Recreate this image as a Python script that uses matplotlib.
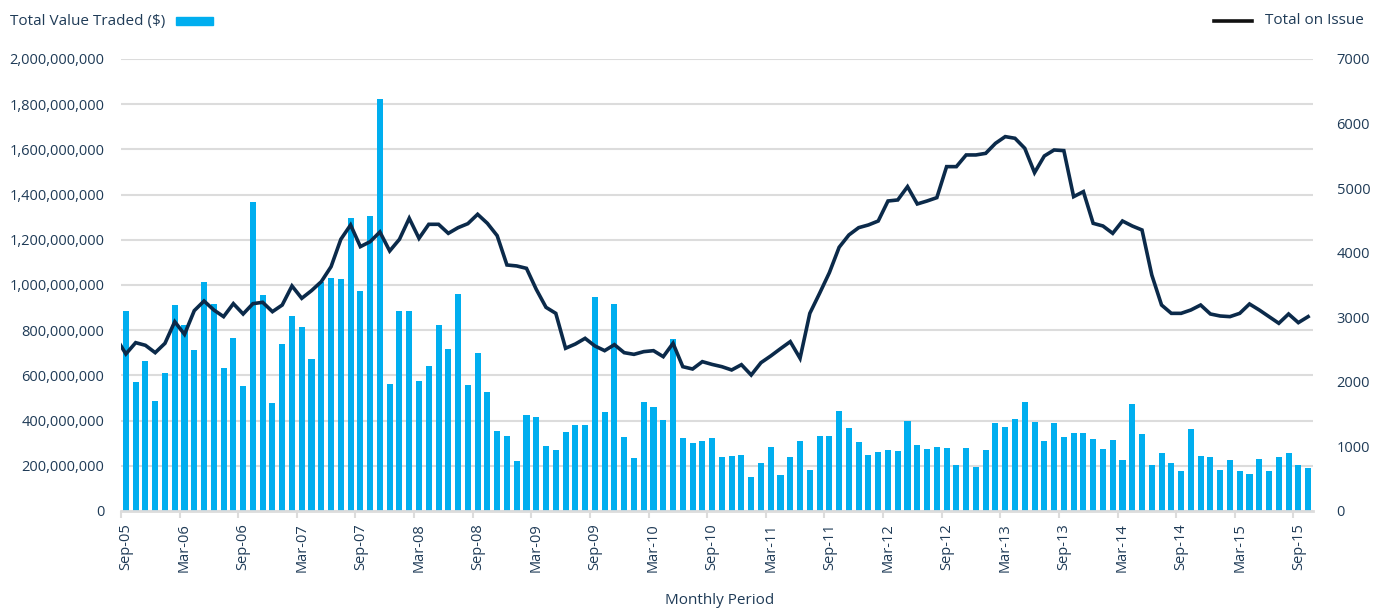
import matplotlib
matplotlib.use("Agg")
import matplotlib.pyplot as plt
import numpy as np
from matplotlib.lines import Line2D
from matplotlib.patches import Rectangle
from matplotlib.ticker import FuncFormatter, FixedLocator

plt.rcParams['font.family'] = ['Open Sans', 'DejaVu Sans']

# Monthly periods Sep-05 .. Oct-15
months = ["Jan", "Feb", "Mar", "Apr", "May", "Jun", "Jul", "Aug", "Sep", "Oct", "Nov", "Dec"]
periods = []
y, m = 2005, 8
for _ in range(122):
    periods.append(f"{months[m]}-{y % 100:02d}")
    m += 1
    if m == 12:
        m = 0
        y += 1

# Total Value Traded ($ millions)
value_traded_m = [
    885, 569, 662, 488, 611, 910, 822, 711, 1012, 916, 633, 765,
    552, 1366, 956, 476, 739, 864, 813, 671, 1013, 1031, 1025, 1296,
    972, 1305, 1823, 562, 883, 883, 577, 642, 824, 718, 959, 558,
    698, 527, 354, 330, 223, 426, 414, 286, 268, 350, 379, 379,
    948, 437, 914, 326, 235, 484, 462, 401, 760, 322, 299, 308,
    322, 240, 242, 248, 149, 212, 282, 159, 237, 310, 181, 333,
    333, 442, 366, 305, 248, 261, 270, 264, 398, 291, 274, 282,
    277, 205, 279, 196, 270, 388, 370, 406, 482, 392, 308, 389,
    327, 347, 347, 320, 274, 316, 227, 475, 341, 204, 255, 211,
    178, 361, 242, 237, 180, 227, 177, 162, 229, 176, 237, 257,
    202, 190,
]

# Total on Issue (first value is Aug-05, only partly visible at the left edge)
on_issue_prior = 2680
on_issue = [
    2432, 2607, 2566, 2452, 2597, 2932, 2736, 3103, 3252, 3113, 3010, 3211,
    3051, 3211, 3232, 3087, 3190, 3485, 3294, 3413, 3552, 3784, 4208, 4430,
    4094, 4171, 4321, 4027, 4208, 4533, 4223, 4440, 4440, 4300, 4388, 4450,
    4595, 4455, 4264, 3810, 3795, 3758, 3433, 3154, 3061, 2520, 2586, 2674,
    2556, 2483, 2576, 2452, 2426, 2468, 2483, 2390, 2597, 2235, 2199, 2313,
    2270, 2235, 2184, 2266, 2106, 2297, 2401, 2514, 2623, 2365, 3061, 3371,
    3691, 4084, 4275, 4388, 4430, 4491, 4801, 4817, 5023, 4755, 4801, 4853,
    5333, 5333, 5514, 5514, 5539, 5694, 5798, 5772, 5617, 5240, 5498, 5591,
    5581, 4868, 4946, 4455, 4414, 4300, 4491, 4414, 4352, 3655, 3190, 3061,
    3061, 3113, 3190, 3051, 3020, 3010, 3061, 3206, 3113, 3010, 2907, 3051,
    2917, 3010,
]

TEXT = "#1F3B57"
BAR = "#00AEEF"
LINE = "#0B2A4A"
GRID = "#DCDCDC"

fig = plt.figure(figsize=(13.82, 6.11), dpi=100)
ax = fig.add_axes([121 / 1382, 1 - 511 / 611, (1313 - 121) / 1382, (511 - 59) / 611])
ax2 = ax.twinx()

x = np.arange(len(periods))
ax.bar(x, np.array(value_traded_m) * 1e6, width=0.62, color=BAR, zorder=2)

xl = np.arange(-1, len(periods))
ax2.plot(xl, [on_issue_prior] + on_issue, color=LINE, lw=2.6, solid_joinstyle="miter", zorder=3)

ax.set_xlim(-0.5, len(periods) - 0.5)
ax2.set_xlim(-0.5, len(periods) - 0.5)
ax.set_ylim(0, 2e9)
ax2.set_ylim(0, 7000)

ax.set_yticks(np.arange(0, 2.0e9 + 1, 2e8))
ax.yaxis.set_major_formatter(FuncFormatter(lambda v, p: f"{int(round(v)):,}"))
ax2.set_yticks(np.arange(0, 7001, 1000))
ax2.yaxis.set_major_formatter(FuncFormatter(lambda v, p: f"{int(v)}"))

ax.grid(axis="y", color=GRID, lw=1.5, zorder=0)
ax.set_axisbelow(True)

for a in (ax, ax2):
    for s in a.spines.values():
        s.set_visible(False)
ax.spines["bottom"].set_visible(True)
ax.spines["bottom"].set_color(GRID)
ax.spines["bottom"].set_linewidth(2)

ax.tick_params(axis="y", length=0, labelsize=10.5, labelcolor=TEXT, pad=12)
ax2.tick_params(axis="y", length=0, labelsize=10.5, labelcolor=TEXT, pad=17)

label_idx = list(range(0, len(periods), 6))
ax.xaxis.set_major_locator(FixedLocator([i - 0.5 for i in label_idx]))
ax.xaxis.set_minor_locator(FixedLocator(label_idx))
ax.set_xticklabels([])
ax.set_xticklabels([periods[i] for i in label_idx], minor=True, rotation=90)
ax.tick_params(axis="x", which="major", length=5, width=1.5, color=GRID)
ax.tick_params(axis="x", which="minor", length=0, labelsize=10.5, labelcolor=TEXT, pad=9)

fig.text(720 / 1382, 1 - 601 / 611, "Monthly Period", ha="center", va="center", fontsize=11, color=TEXT)

# legends
fig.text(10 / 1382, 1 - 21 / 611, "Total Value Traded ($)", ha="left", va="center", fontsize=11, color=TEXT)
fig.patches.append(Rectangle((176 / 1382, 1 - 25 / 611), 37 / 1382, 8 / 611,
                             transform=fig.transFigure, color=BAR, figure=fig))
fig.lines.append(Line2D([1214 / 1382, 1252 / 1382], [1 - 21 / 611, 1 - 21 / 611],
                        transform=fig.transFigure, color="#111111", lw=2.6, figure=fig))
fig.text(1364 / 1382, 1 - 21 / 611, "Total on Issue", ha="right", va="center", fontsize=11, color=TEXT)

fig.savefig("out.png", dpi=100)
